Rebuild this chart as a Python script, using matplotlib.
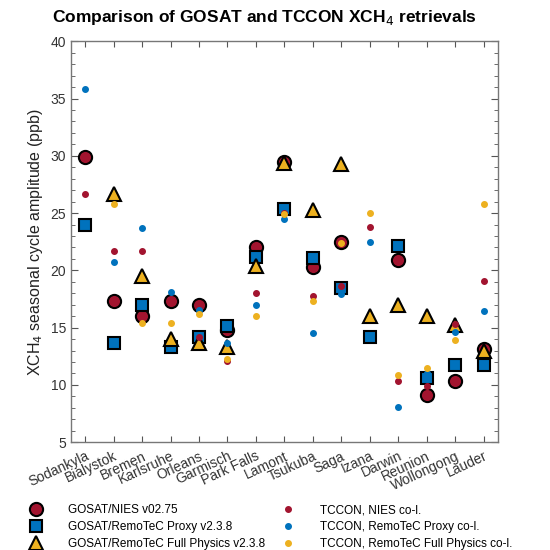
import numpy as np
import matplotlib
matplotlib.use("Agg")
import matplotlib.pyplot as plt
from matplotlib.ticker import MultipleLocator

plt.rcParams['font.family'] = ['Liberation Sans', 'DejaVu Sans']

stations = ["Sodankyla", "Bialystok", "Bremen", "Karlsruhe", "Orleans", "Garmisch",
            "Park Falls", "Lamont", "Tsukuba", "Saga", "Izana", "Darwin",
            "Reunion", "Wollongong", "Lauder"]

# GOSAT retrievals (nan = no value)
nies = [29.9, 17.3, 16.05, 17.35, 17.0, 14.8, 22.05, 29.5, 20.3, 22.5, np.nan, 20.9, 9.1, 10.3, 13.1]
proxy = [24.0, 13.7, 16.95, 13.35, 14.2, 15.1, 21.2, 25.4, 21.05, 18.5, 14.2, 22.15, 10.6, 11.7, 11.75]
fullphys = [np.nan, 26.7, 19.5, 14.0, 13.7, 13.35, 20.4, 29.4, 25.3, 29.3, 16.05, 16.95, 16.05, 15.2, 13.0]

# TCCON co-located
tccon_nies = [26.7, 21.7, 21.7, np.nan, 14.15, 12.1, 18.05, 25.0, 17.8, 18.6, 23.8, 10.3, 9.9, 15.3, 19.05]
tccon_proxy = [35.8, 20.7, 23.7, 18.1, 16.5, 13.7, 17.0, 24.45, 14.5, 17.9, 22.5, 8.1, 11.0, 14.65, 16.45]
tccon_fp = [np.nan, 25.8, 15.4, 15.4, 16.2, 12.3, 16.05, 24.9, 17.3, 22.4, 25.0, 10.9, 11.5, 13.9, 25.75]

red = "#A2142F"
blue = "#0072BD"
yellow = "#EDB120"

x = np.arange(1, len(stations) + 1)

fig = plt.figure(figsize=(5.5, 5.5), dpi=100)
ax = fig.add_axes([0.129, 0.196, 0.776, 0.729])

h1, = ax.plot(x, nies, 'o', ms=9.5, mfc=red, mec='k', mew=1.5, ls='none', zorder=3)
h2, = ax.plot(x, proxy, 's', ms=9, mfc=blue, mec='k', mew=1.5, ls='none', zorder=4)
h3, = ax.plot(x, fullphys, '^', ms=10.5, mfc=yellow, mec='k', mew=1.5, ls='none', zorder=5)
h4, = ax.plot(x, tccon_nies, 'o', ms=4, mfc=red, mec=red, ls='none', zorder=6)
h5, = ax.plot(x, tccon_proxy, 'o', ms=4, mfc=blue, mec=blue, ls='none', zorder=7)
h6, = ax.plot(x, tccon_fp, 'o', ms=4, mfc=yellow, mec=yellow, ls='none', zorder=8)

ax.set_xlim(0.5, len(stations) + 0.5)
ax.set_ylim(5, 40)
ax.set_xticks(x)
ax.set_xticklabels(stations, rotation=25, ha='right', va='top', rotation_mode='anchor')
ax.yaxis.set_major_locator(MultipleLocator(5))
ax.yaxis.set_minor_locator(MultipleLocator(1))
ax.tick_params(axis='both', which='both', direction='in', top=True, right=True,
               colors='#555555', labelcolor='#333333', labelsize=10)
ax.tick_params(axis='x', which='major', length=4, pad=5)
ax.tick_params(axis='y', which='major', length=5)
ax.tick_params(axis='y', which='minor', length=3)
for s in ax.spines.values():
    s.set_color('#777777')
    s.set_linewidth(1.0)

ax.set_ylabel("XCH$_4$ seasonal cycle amplitude (ppb)", fontsize=11.5, color='#222222')
fig.text(0.48, 0.968, "Comparison of GOSAT and TCCON XCH$_4$ retrievals",
         ha='center', va='center', fontsize=12.5, fontweight='bold')

fig.legend([h1, h2, h3, h4, h5, h6],
           ["GOSAT/NIES v02.75", "GOSAT/RemoTeC Proxy v2.3.8", "GOSAT/RemoTeC Full Physics v2.3.8",
            "TCCON, NIES co-l.", "TCCON, RemoTeC Proxy co-l.", "TCCON, RemoTeC Full Physics co-l."],
           ncol=2, loc='lower left', bbox_to_anchor=(0.03, -0.02), frameon=False,
           fontsize=8.5, handlelength=1.5, handletextpad=1.95, columnspacing=1.2,
           labelspacing=0.42)

fig.savefig("out.png", dpi=100)
